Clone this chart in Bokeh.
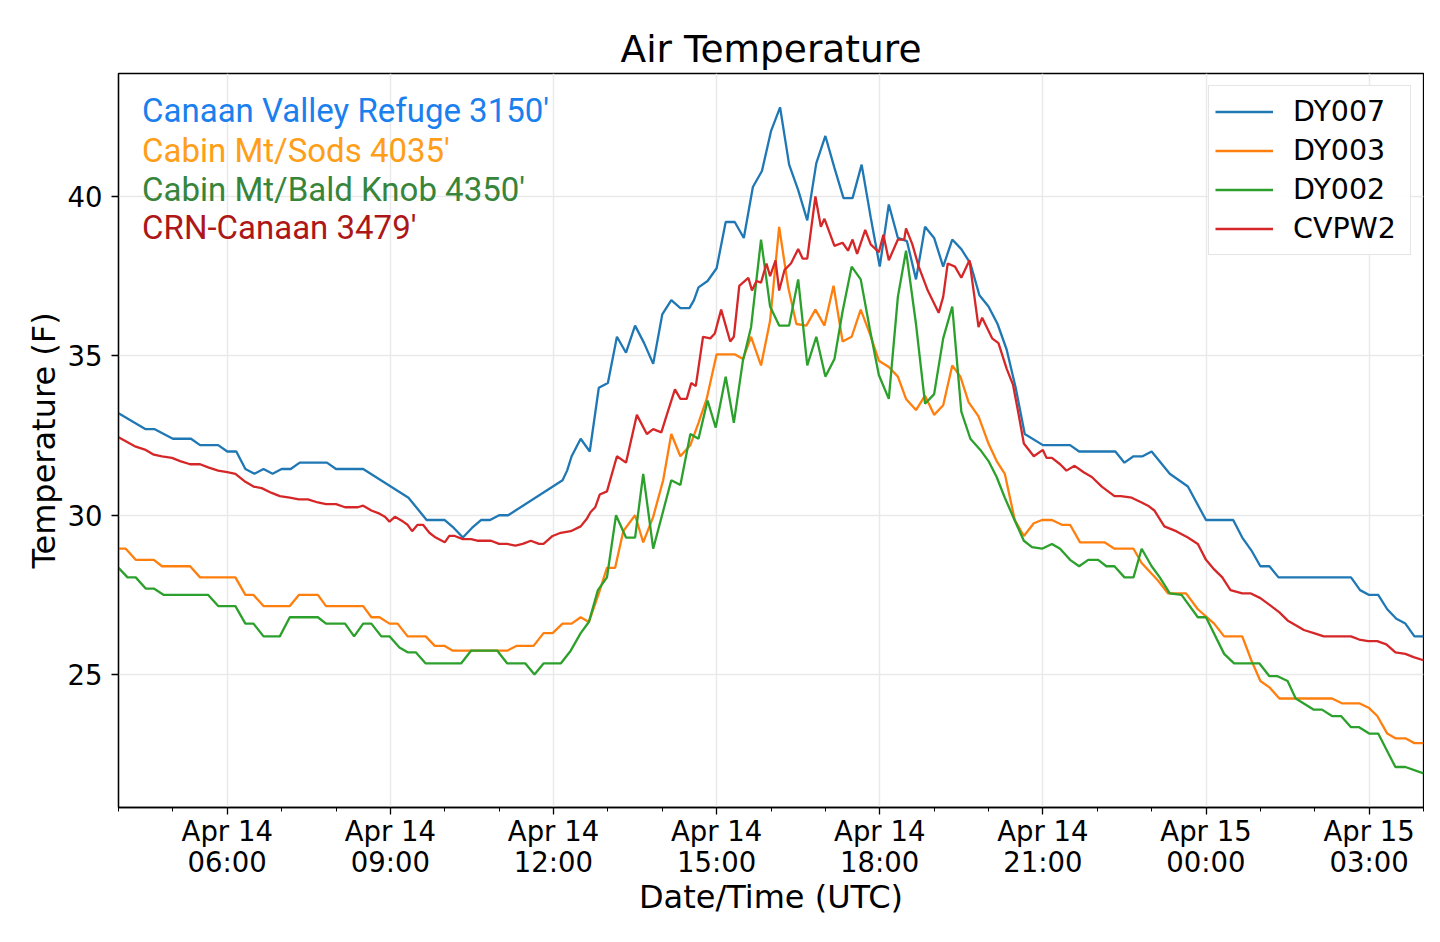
import pandas as pd
from bokeh.plotting import figure
from bokeh.models import (FixedTicker, DatetimeTickFormatter, Legend, LegendItem,
                          Label, Range1d)
from bokeh.embed import file_html
from bokeh.resources import INLINE

START = pd.Timestamp("2018-04-14 04:00")
END = pd.Timestamp("2018-04-15 04:00")

# minutes after 04:00 UTC, temperature in F
dy007_min = [0, 30, 40, 60, 80, 90, 110, 120, 130, 140, 150, 160, 170, 180, 190, 200, 230, 240, 270, 320,
             340, 360, 370, 380, 390, 400, 410, 420, 430, 490, 495, 500, 510, 520, 530, 540, 550, 560, 570, 580,
             590, 600, 610, 620, 630, 635, 640, 650, 660, 670, 680, 690, 700, 710, 720, 730, 740, 750, 760, 770,
             780, 790, 800, 810, 820, 830, 840, 850, 860, 870, 880, 890, 900, 910, 920, 930, 940, 950, 960, 970,
             980, 990, 1000, 1020, 1050, 1060, 1100, 1110, 1120, 1130, 1140, 1160, 1180, 1200, 1230, 1240, 1250,
             1260, 1270, 1280, 1360, 1370, 1380, 1390, 1400, 1410, 1420, 1430, 1440]
dy007_temp = [33.2, 32.7, 32.7, 32.4, 32.4, 32.2, 32.2, 32.0, 32.0, 31.45, 31.3, 31.45, 31.3, 31.45, 31.45, 31.65,
              31.65, 31.45, 31.45, 30.55, 29.85, 29.85, 29.6, 29.3, 29.6, 29.85, 29.85, 30.0, 30.0, 31.1, 31.4,
              31.85, 32.4, 32.0, 34.0, 34.15, 35.6, 35.1, 35.95, 35.4, 34.75, 36.3, 36.75, 36.5, 36.5, 36.75,
              37.15, 37.35, 37.75, 39.2, 39.2, 38.7, 40.3, 40.8, 42.05, 42.8, 41.0, 40.2, 39.25, 41.05, 41.9,
              40.9, 39.95, 39.95, 41.0, 39.35, 37.8, 39.75, 38.7, 38.6, 37.4, 39.05, 38.7, 37.8, 38.65, 38.35,
              37.9, 36.9, 36.55, 36.0, 35.2, 34.0, 32.55, 32.2, 32.2, 32.0, 32.0, 31.65, 31.85, 31.85, 32.0,
              31.3, 30.9, 29.85, 29.85, 29.3, 28.9, 28.4, 28.4, 28.05, 28.05, 27.65, 27.5, 27.5, 27.05, 26.75,
              26.6, 26.2, 26.2]

dy003_min = [0, 8, 19, 39, 48, 79, 90, 129, 140, 149, 160, 189, 199, 220, 229, 270, 279, 288, 299, 308,
             319, 339, 349, 360, 369, 429, 439, 458, 469, 479, 490, 500, 510, 519, 530, 539, 548, 557, 570, 579,
             590, 601, 610, 620, 631, 640, 649, 660, 680, 689, 698, 709, 719, 729, 739, 748, 759, 769, 779, 789,
             799, 809, 819, 829, 839, 850, 860, 869, 880, 890, 900, 910, 920, 929, 938, 949, 960, 969, 978, 989,
             999, 1010, 1019, 1030, 1041, 1050, 1061, 1088, 1099, 1120, 1129, 1147, 1158, 1178, 1191, 1209,
             1220, 1240, 1250, 1260, 1270, 1281, 1339, 1350, 1369, 1380, 1389, 1400, 1409, 1420, 1430, 1440]
dy003_temp = [28.95, 28.95, 28.6, 28.6, 28.4, 28.4, 28.05, 28.05, 27.5, 27.5, 27.15, 27.15, 27.5, 27.5, 27.15,
              27.15, 26.8, 26.8, 26.6, 26.6, 26.2, 26.2, 25.9, 25.9, 25.75, 25.75, 25.9, 25.9, 26.3, 26.3,
              26.6, 26.6, 26.8, 26.65, 27.55, 28.35, 28.35, 29.5, 30.0, 29.15, 29.95, 31.1, 32.55, 31.85, 32.2,
              32.9, 33.65, 35.05, 35.05, 34.9, 35.6, 34.7, 36.1, 39.05, 37.15, 36.0, 35.95, 36.45, 35.95, 37.2,
              35.45, 35.6, 36.45, 35.7, 34.85, 34.65, 34.35, 33.65, 33.3, 33.75, 33.15, 33.45, 34.7, 34.35,
              33.55, 33.1, 32.25, 31.7, 31.3, 29.85, 29.35, 29.75, 29.85, 29.85, 29.7, 29.7, 29.15, 29.15,
              28.95, 28.95, 28.5, 27.95, 27.55, 27.55, 27.05, 26.6, 26.2, 26.2, 25.45, 24.8, 24.6, 24.25,
              24.25, 24.1, 24.1, 23.95, 23.7, 23.15, 23.0, 23.0, 22.85, 22.85]

dy002_min = [0, 10, 19, 30, 39, 50, 99, 110, 129, 140, 149, 160, 178, 189, 220, 229, 250, 260, 270, 279,
             290, 299, 310, 319, 328, 339, 378, 389, 418, 429, 449, 459, 469, 488, 499, 510, 519, 529, 539, 549,
             560, 570, 579, 590, 610, 620, 631, 640, 650, 659, 670, 679, 689, 698, 709, 719, 729, 740, 750, 760,
             770, 780, 790, 799, 809, 819, 829, 839, 850, 860, 869, 880, 890, 900, 910, 920, 930, 940, 951, 960,
             969, 978, 988, 999, 1008, 1019, 1030, 1039, 1050, 1060, 1070, 1081, 1090, 1099, 1110, 1120, 1129,
             1140, 1149, 1160, 1173, 1191, 1200, 1220, 1231, 1259, 1270, 1279, 1290, 1299, 1319, 1328, 1339,
             1349, 1360, 1369, 1380, 1390, 1409, 1420, 1440]
dy002_temp = [28.35, 28.05, 28.05, 27.7, 27.7, 27.5, 27.5, 27.15, 27.15, 26.6, 26.6, 26.2, 26.2, 26.8, 26.8,
              26.6, 26.6, 26.2, 26.6, 26.6, 26.2, 26.2, 25.85, 25.7, 25.7, 25.35, 25.35, 25.75, 25.75, 25.35,
              25.35, 25.0, 25.35, 25.35, 25.75, 26.3, 26.65, 27.65, 28.05, 30.0, 29.3, 29.3, 31.3, 28.95, 31.1,
              30.95, 32.55, 32.4, 33.6, 32.75, 34.35, 32.9, 34.85, 35.9, 38.65, 36.55, 35.95, 35.95, 37.4, 34.7,
              35.6, 34.35, 34.9, 36.4, 37.8, 37.4, 35.85, 34.4, 33.65, 36.85, 38.3, 36.0, 33.5, 33.8, 35.55,
              36.55, 33.25, 32.4, 32.05, 31.7, 31.2, 30.55, 29.9, 29.2, 29.0, 28.95, 29.1, 28.95, 28.6, 28.4,
              28.6, 28.6, 28.4, 28.4, 28.05, 28.05, 28.95, 28.4, 28.05, 27.55, 27.5, 26.8, 26.8, 25.65, 25.35,
              25.35, 24.95, 24.95, 24.8, 24.25, 23.9, 23.9, 23.7, 23.7, 23.35, 23.35, 23.15, 23.15, 22.1, 22.1,
              21.9]

cvpw2_min = [0, 19, 30, 39, 48, 59, 68, 79, 90, 99, 110, 120, 129, 140, 149, 158, 169, 178, 189, 199,
             209, 220, 229, 240, 250, 264, 270, 279, 288, 294, 299, 305, 314, 319, 324, 330, 336, 343, 350, 360,
             365, 371, 380, 389, 396, 411, 420, 429, 438, 446, 455, 464, 469, 479, 488, 499, 510, 517, 521, 526,
             531, 539, 550, 560, 572, 583, 590, 599, 605, 614, 620, 627, 632, 637, 645, 653, 658, 665, 669, 675,
             679, 685, 695, 699, 704, 709, 715, 719, 725, 729, 735, 742, 750, 755, 760, 769, 775, 779, 790, 799,
             805, 810, 815, 824, 830, 839, 844, 850, 860, 867, 869, 876, 883, 893, 905, 910, 915, 923, 930, 939,
             949, 953, 964, 971, 980, 987, 993, 999, 1010, 1020, 1024, 1030, 1039, 1046, 1055, 1065, 1074, 1085,
             1099, 1106, 1118, 1129, 1136, 1143, 1154, 1167, 1180, 1191, 1200, 1209, 1218, 1227, 1240, 1249,
             1260, 1272, 1281, 1290, 1299, 1308, 1319, 1330, 1341, 1360, 1369, 1379, 1389, 1399, 1409, 1420,
             1429, 1440]
cvpw2_temp = [32.45, 32.15, 32.05, 31.9, 31.85, 31.8, 31.7, 31.6, 31.6, 31.5, 31.4, 31.35, 31.3, 31.05, 30.9,
              30.85, 30.7, 30.6, 30.55, 30.5, 30.5, 30.4, 30.35, 30.35, 30.25, 30.25, 30.3, 30.15, 30.05, 29.95,
              29.8, 29.95, 29.8, 29.7, 29.5, 29.7, 29.7, 29.45, 29.3, 29.15, 29.35, 29.35, 29.25, 29.25, 29.2,
              29.2, 29.1, 29.1, 29.05, 29.1, 29.2, 29.1, 29.1, 29.35, 29.45, 29.5, 29.65, 29.9, 30.1, 30.25,
              30.65, 30.75, 31.85, 31.65, 33.15, 32.55, 32.7, 32.6, 33.15, 33.95, 33.65, 33.65, 34.15, 34.05,
              35.6, 35.55, 35.7, 36.45, 36.05, 35.45, 35.6, 37.2, 37.45, 37.05, 37.35, 37.3, 37.9, 37.5, 38.0,
              37.05, 37.7, 37.9, 38.35, 38.05, 38.05, 40.0, 39.05, 39.3, 38.45, 38.55, 38.3, 38.65, 38.2, 38.95,
              38.5, 38.25, 38.8, 38.0, 38.65, 38.65, 39.0, 38.5, 37.8, 37.05, 36.35, 36.85, 37.9, 37.8, 37.45,
              38.0, 35.9, 36.2, 35.55, 35.4, 34.6, 34.1, 33.2, 32.25, 31.85, 32.05, 31.8, 31.8, 31.6, 31.4,
              31.55, 31.35, 31.2, 30.9, 30.6, 30.6, 30.55, 30.4, 30.3, 30.15, 29.65, 29.5, 29.3, 29.1, 28.6,
              28.3, 28.05, 27.65, 27.55, 27.55, 27.4, 27.15, 26.95, 26.7, 26.55, 26.4, 26.3, 26.2, 26.2, 26.2,
              26.1, 26.05, 26.05, 25.95, 25.7, 25.65, 25.55, 25.45]

series_names = ["DY007", "DY003", "DY002", "CVPW2"]
series_minutes = [dy007_min, dy003_min, dy002_min, cvpw2_min]
series_temps = [dy007_temp, dy003_temp, dy002_temp, cvpw2_temp]
line_colors = ["#1f77b4", "#ff7f0e", "#2ca02c", "#d62728"]

station_labels = ["Canaan Valley Refuge 3150'", "Cabin Mt/Sods 4035'",
                  "Cabin Mt/Bald Knob 4350'", "CRN-Canaan 3479'"]
station_label_temps = [42.7, 41.45, 40.22, 39.03]
station_colors = ["#1a80ee", "#ff9e18", "#37853a", "#ad1717"]

y_ticks = [25, 30, 35, 40]
major_times = pd.date_range("2018-04-14 06:00", periods=8, freq="3h")
minor_times = pd.date_range(START, END, freq="1h")


def to_ms(idx):
    return [int(v) // 10**6 for v in idx.astype("int64")]


p = figure(width=1424, height=926, x_axis_type="datetime",
           x_range=Range1d(START, END), y_range=Range1d(20.83, 43.86),
           output_backend="svg", toolbar_location=None,
           min_border_left=118, min_border_right=1, min_border_top=73, min_border_bottom=119,
           x_axis_label="Date/Time (UTC)", y_axis_label="Temperature (F)")

p.title.text = "Air Temperature"
p.title.align = "center"
p.title.text_font = "DejaVu Sans"
p.title.text_font_size = "37.5px"
p.title.text_font_style = "normal"
p.title.text_color = "black"
p.title.standoff = 6

p.outline_line_color = "black"
p.outline_line_width = 1.3
p.background_fill_color = "white"
p.border_fill_color = "white"

p.xaxis.ticker = FixedTicker(ticks=to_ms(major_times), minor_ticks=to_ms(minor_times))
p.xaxis.formatter = DatetimeTickFormatter(hours="%b %d\n%H:%M", hourmin="%b %d\n%H:%M",
                                          days="%b %d\n%H:%M", minutes="%b %d\n%H:%M")
p.yaxis.ticker = FixedTicker(ticks=y_ticks)

for ax in (p.xaxis[0], p.yaxis[0]):
    ax.axis_line_color = "black"
    ax.axis_line_width = 1.3
    ax.major_tick_line_color = "black"
    ax.major_tick_line_width = 1.3
    ax.major_tick_out = 7
    ax.major_tick_in = 0
    ax.minor_tick_out = 4
    ax.minor_tick_in = 0
    ax.major_label_text_font = "DejaVu Sans"
    ax.major_label_text_font_size = "27.5px"
    ax.major_label_text_color = "black"
    ax.axis_label_text_font = "DejaVu Sans"
    ax.axis_label_text_font_size = "32px"
    ax.axis_label_text_font_style = "normal"
    ax.axis_label_text_color = "black"

p.yaxis.minor_tick_line_color = None
p.yaxis.major_label_standoff = 9
p.yaxis.axis_label_standoff = 2
p.xaxis.major_label_standoff = 0
p.xaxis.major_label_text_line_height = 0.97
p.xaxis.axis_label_standoff = -3

p.xgrid.grid_line_color = "#e9e9e9"
p.ygrid.grid_line_color = "#e9e9e9"
p.xgrid.grid_line_width = 1.5
p.ygrid.grid_line_width = 1.5

items = []
for name, mins, temps, color in zip(series_names, series_minutes, series_temps, line_colors):
    times = START + pd.to_timedelta(mins, unit="min")
    r = p.line(times, temps, line_color=color, line_width=2.3)
    items.append(LegendItem(label=name, renderers=[r]))

legend = Legend(items=items, location="top_right")
legend.margin = 12
legend.padding = 6
legend.spacing = 0
legend.glyph_width = 58
legend.glyph_height = 39
legend.label_height = 39
legend.label_width = 111
legend.label_standoff = 20
legend.label_text_font = "DejaVu Sans"
legend.label_text_font_size = "28.5px"
legend.label_text_color = "black"
legend.border_line_color = "#cccccc"
legend.border_line_width = 1.5
legend.background_fill_alpha = 0.9
p.add_layout(legend)

label_time = START + pd.Timedelta(minutes=26)
for text, temp, color in zip(station_labels, station_label_temps, station_colors):
    p.add_layout(Label(x=label_time, y=temp, text=text, text_color=color,
                       text_font="Roboto", text_font_size="33px", text_baseline="middle"))

open("out.html", "w").write(file_html(p, INLINE))
